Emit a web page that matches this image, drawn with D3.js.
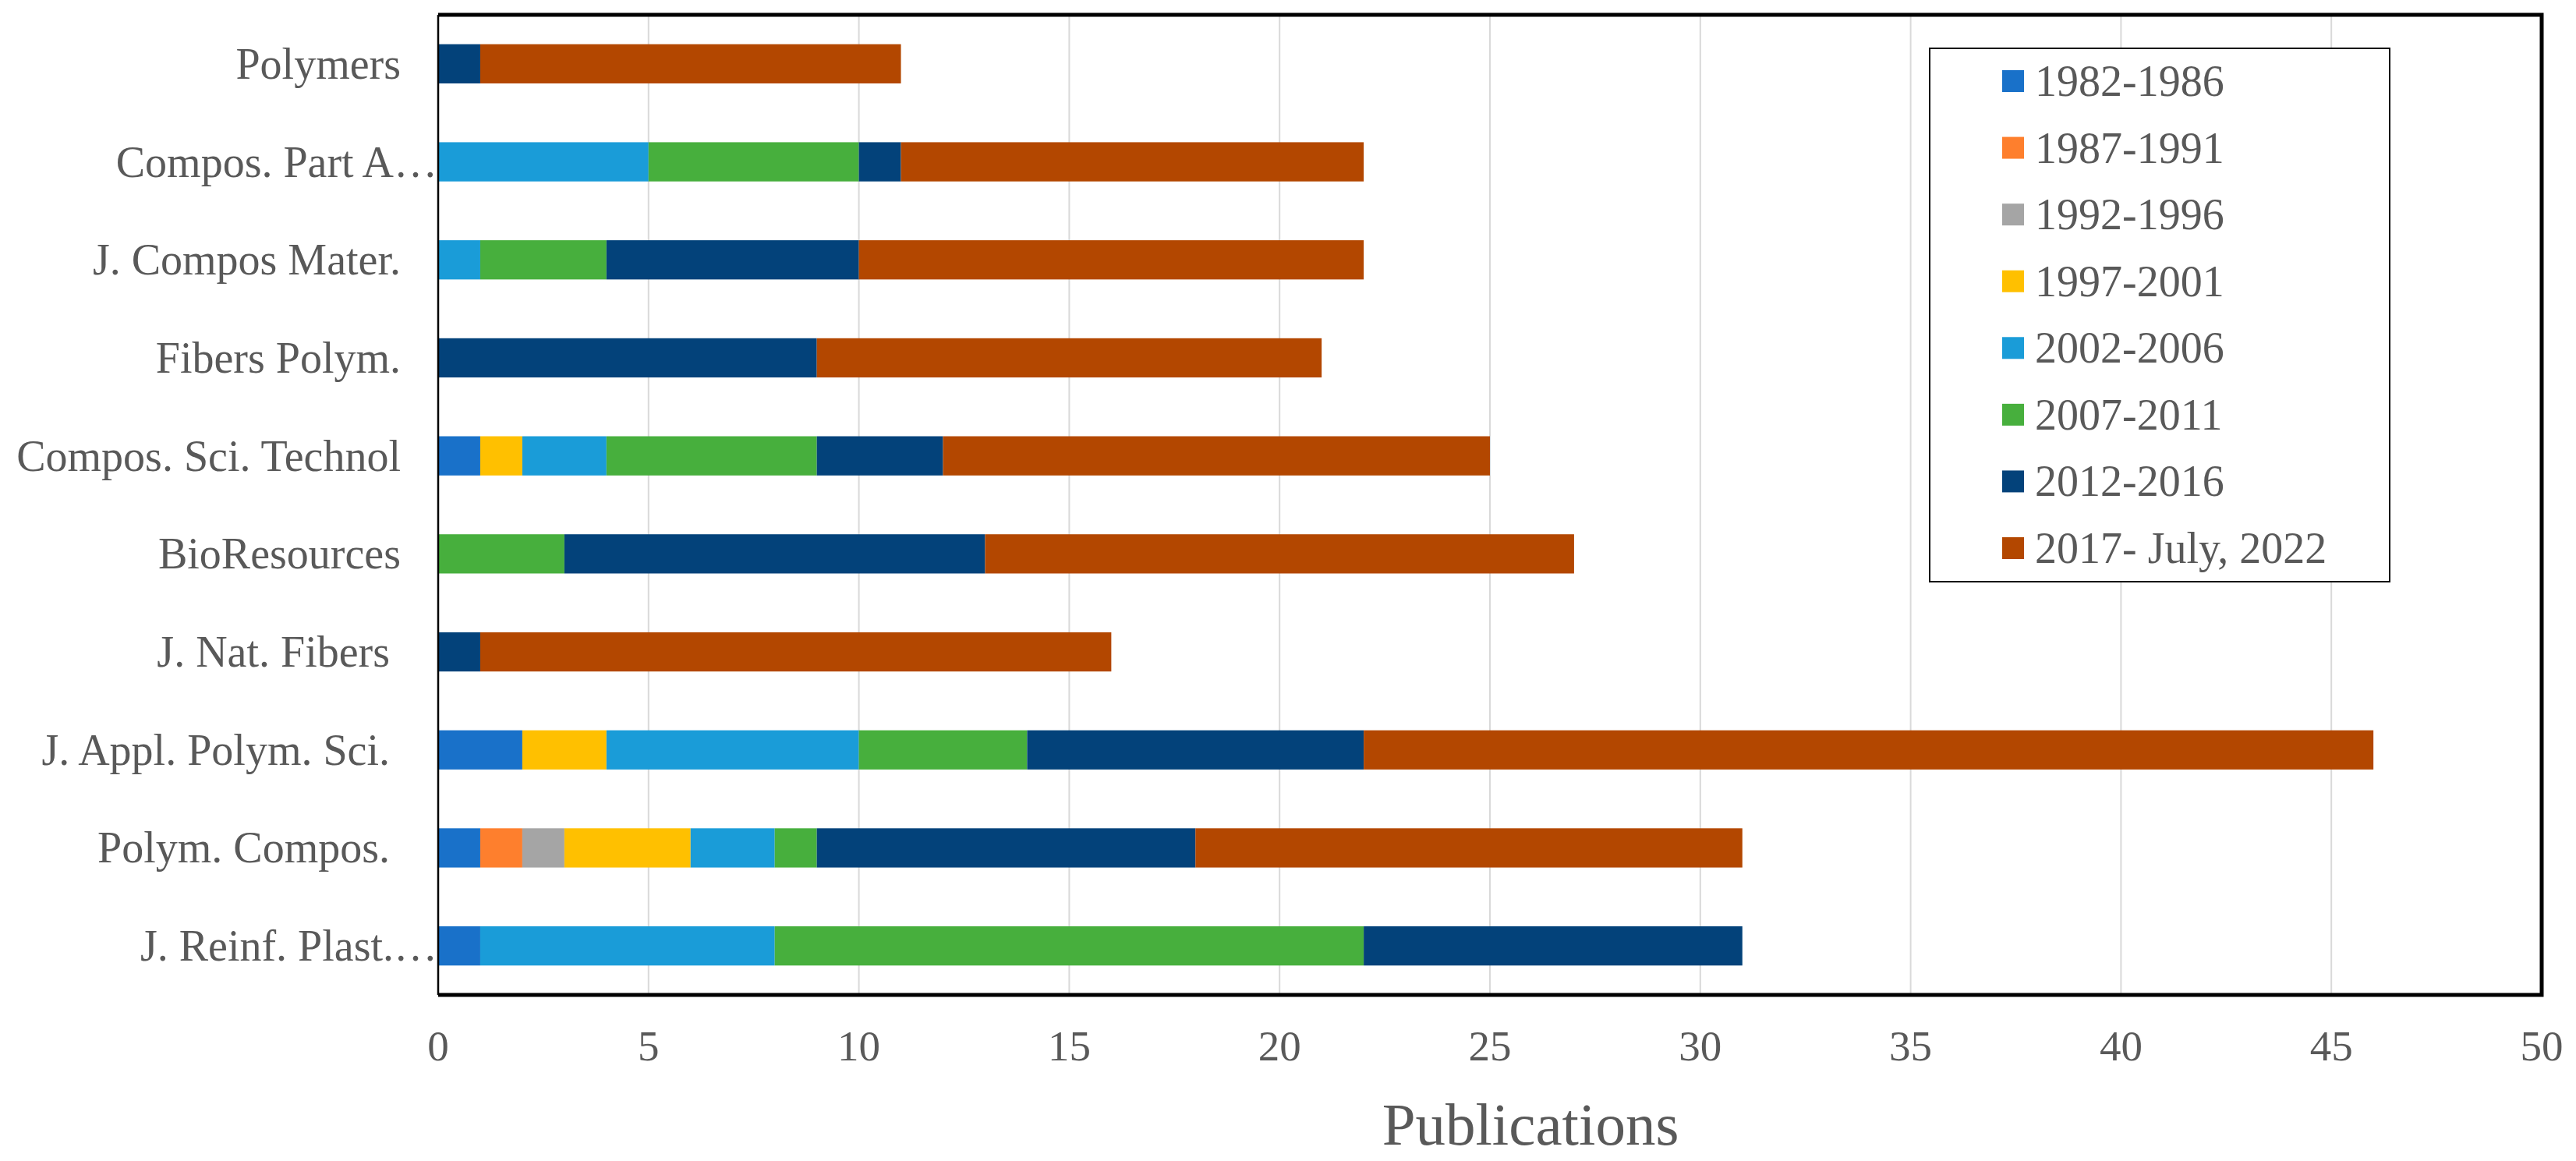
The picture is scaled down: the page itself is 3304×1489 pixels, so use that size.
<!DOCTYPE html>
<html lang="en">
<head>
<meta charset="UTF-8">
<title>Publications by journal</title>
<script src="https://d3js.org/d3.v7.min.js"></script>
<style>
  body { margin: 0; background: #fff; }
  text { font-family: "Liberation Serif", "Times New Roman", serif; fill: #595959; white-space: pre; }
</style>
</head>
<body>
<svg id="chart" width="3304" height="1489"></svg>
<script>
  // journals, top to bottom
  const journals = ["Polymers", "Compos. Part A…", "J. Compos Mater.", "Fibers Polym.",
    "Compos. Sci. Technol", "BioResources", "J. Nat. Fibers ", "J. Appl. Polym. Sci. ",
    "Polym. Compos. ", "J. Reinf. Plast.…"];

  const periods = ["1982-1986", "1987-1991", "1992-1996", "1997-2001",
    "2002-2006", "2007-2011", "2012-2016", "2017- July, 2022"];

  const colors = ["#1971c9", "#fe7f2d", "#a5a5a5", "#ffc000",
    "#1a9cd8", "#47af3d", "#03427a", "#b34700"];

  // one array per period, same order as journals
  const p1982 = [0, 0, 0, 0, 1, 0, 0, 2, 1, 1];
  const p1987 = [0, 0, 0, 0, 0, 0, 0, 0, 1, 0];
  const p1992 = [0, 0, 0, 0, 0, 0, 0, 0, 1, 0];
  const p1997 = [0, 0, 0, 0, 1, 0, 0, 2, 3, 0];
  const p2002 = [0, 5, 1, 0, 2, 0, 0, 6, 2, 7];
  const p2007 = [0, 5, 3, 0, 5, 3, 0, 4, 1, 14];
  const p2012 = [1, 1, 6, 9, 3, 10, 1, 8, 9, 9];
  const p2017 = [10, 11, 12, 12, 13, 14, 15, 24, 13, 0];

  const xTicks = [0, 5, 10, 15, 20, 25, 30, 35, 40, 45, 50];

  const series = [p1982, p1987, p1992, p1997, p2002, p2007, p2012, p2017];
  const rows = journals.map((j, i) => {
    let r = { journal: j };
    periods.forEach((p, k) => r[p] = series[k][i]);
    return r;
  });

  const svg = d3.select("#chart");
  const plotL = 562, plotR = 3260, plotT = 19, plotB = 1276;

  const x = d3.scaleLinear().domain([0, 50]).range([plotL, plotR]);
  const y = d3.scaleBand().domain(journals).range([plotT, plotB])
    .paddingInner(0.6).paddingOuter(0.3);

  // gridlines
  svg.append("g").selectAll("line").data(xTicks.slice(1, -1)).enter()
    .append("line")
    .attr("x1", d => x(d)).attr("x2", d => x(d))
    .attr("y1", plotT).attr("y2", plotB)
    .attr("stroke", "#d9d9d9").attr("stroke-width", 2);

  // stacked bars
  const stack = d3.stack().keys(periods)(rows);
  svg.append("g").selectAll("g").data(stack).enter()
    .append("g")
    .attr("fill", (d, i) => colors[i])
    .selectAll("rect").data(d => d).enter()
    .append("rect")
    .attr("x", d => x(d[0]))
    .attr("width", d => x(d[1]) - x(d[0]))
    .attr("y", d => y(d.data.journal))
    .attr("height", y.bandwidth());

  // frame: thick top/right/bottom, thin left axis
  const frame = svg.append("g").attr("stroke", "#000");
  frame.append("path")
    .attr("d", `M${plotL},${plotT}H${plotR}V${plotB}H${plotL}`)
    .attr("fill", "none").attr("stroke-width", 5);
  frame.append("line")
    .attr("x1", plotL).attr("x2", plotL).attr("y1", plotT).attr("y2", plotB)
    .attr("stroke-width", 2.5);

  // category labels
  svg.append("g").selectAll("text").data(journals).enter()
    .append("text")
    .attr("x", d => d.endsWith("…") ? plotL - 1 : plotL - 48)
    .attr("y", d => y(d) + y.bandwidth() / 2 + 19)
    .attr("text-anchor", "end")
    .attr("font-size", 56)
    .text(d => d);

  // x tick labels
  svg.append("g").selectAll("text").data(xTicks).enter()
    .append("text")
    .attr("x", d => x(d)).attr("y", 1360)
    .attr("text-anchor", "middle")
    .attr("font-size", 55)
    .text(d => d);

  svg.append("text")
    .attr("x", 1963).attr("y", 1468)
    .attr("text-anchor", "middle")
    .attr("font-size", 77)
    .text("Publications");

  // legend
  const legend = svg.append("g");
  legend.append("rect")
    .attr("x", 2475).attr("y", 62).attr("width", 590).attr("height", 684)
    .attr("fill", "#fff").attr("stroke", "#000").attr("stroke-width", 2);
  const ly = d3.scalePoint().domain(periods).range([104, 703]);
  const item = legend.selectAll("g.item").data(periods).enter()
    .append("g").attr("class", "item");
  item.append("rect")
    .attr("x", 2568).attr("y", d => ly(d) - 14)
    .attr("width", 28).attr("height", 28)
    .attr("fill", (d, i) => colors[i]);
  item.append("text")
    .attr("x", 2610).attr("y", d => ly(d) + 19)
    .attr("font-size", 56)
    .text(d => d);
</script>
</body>
</html>
